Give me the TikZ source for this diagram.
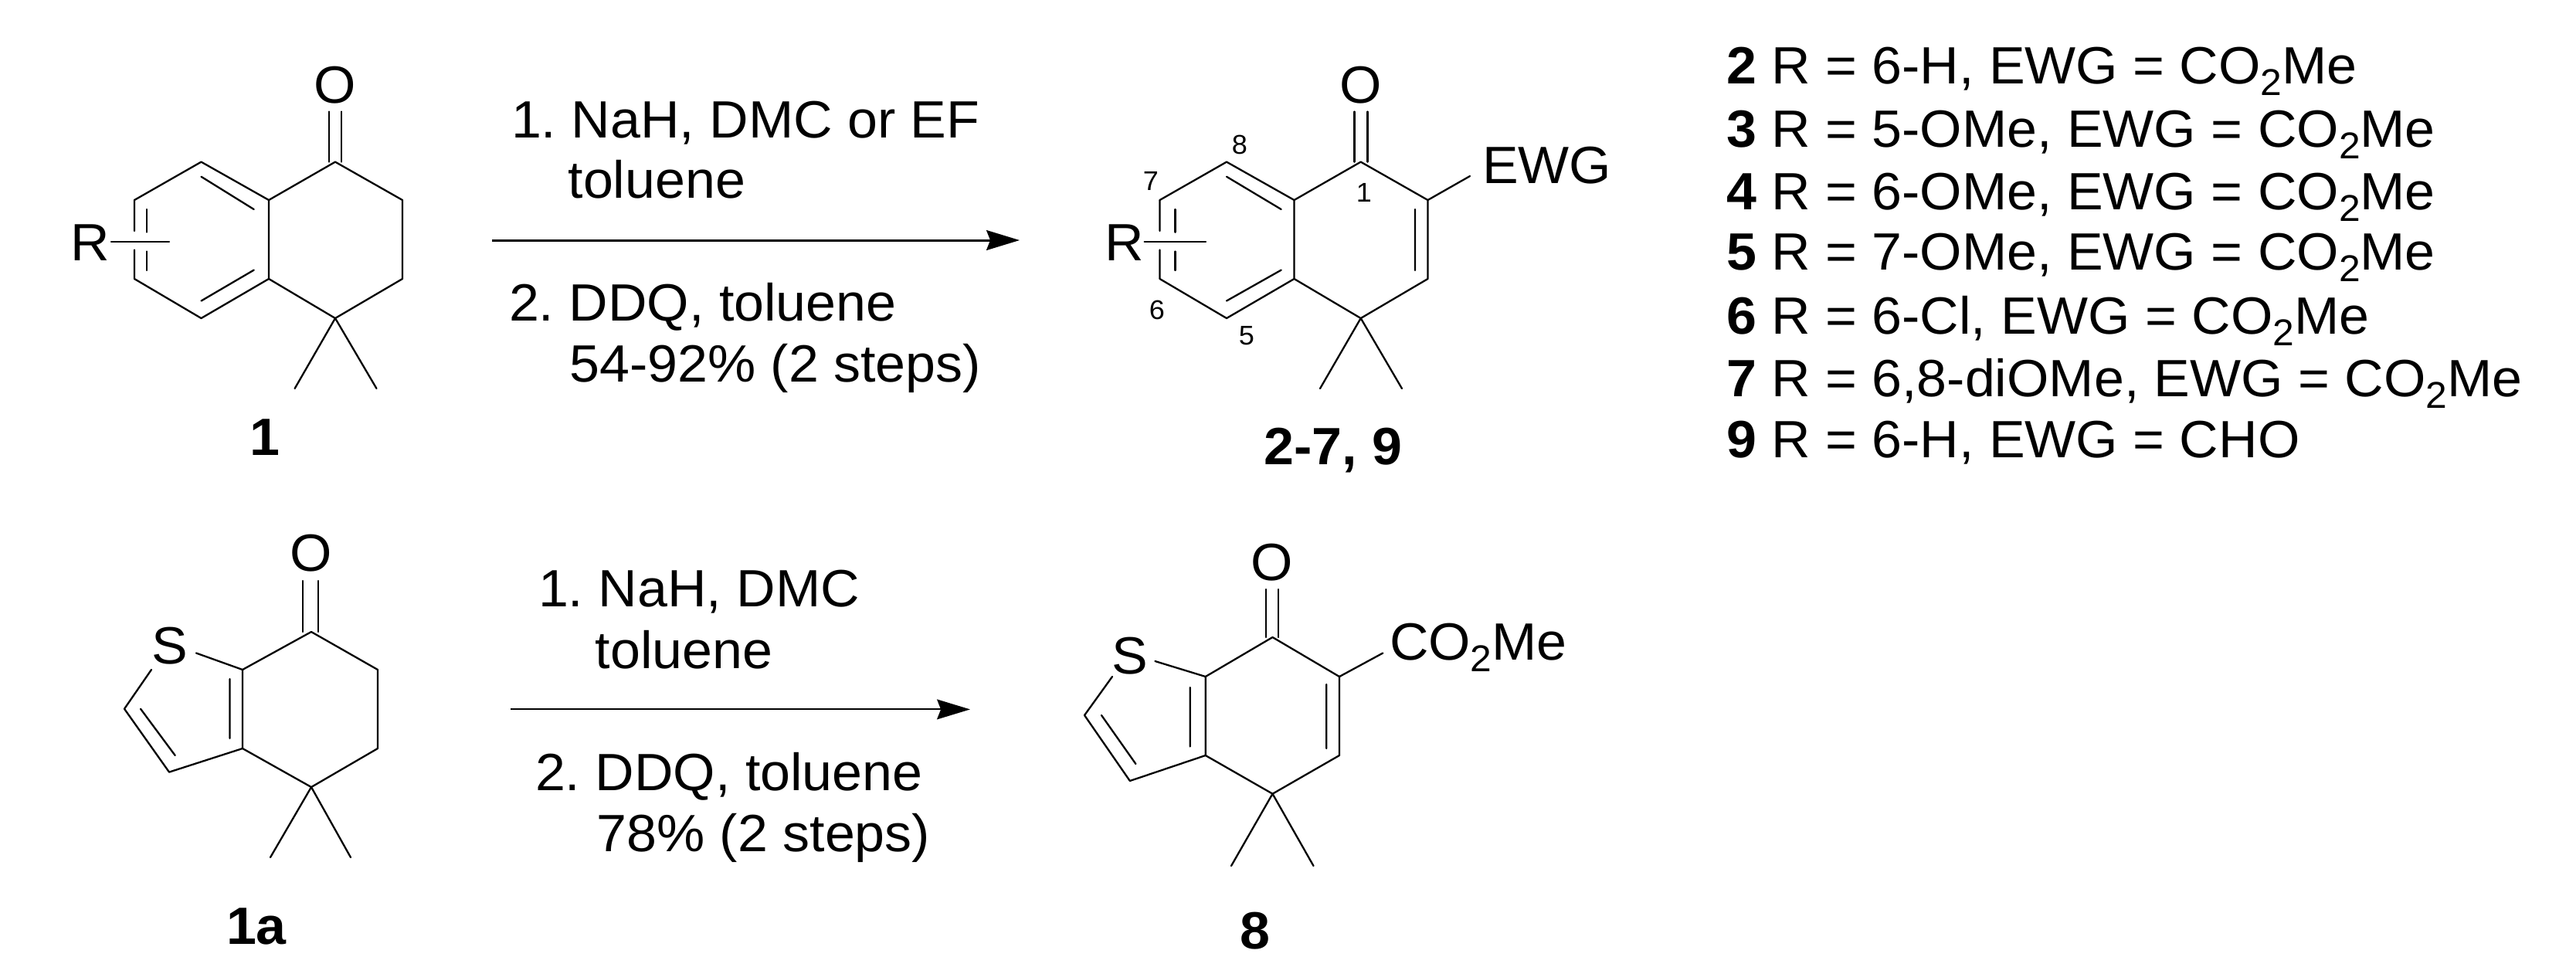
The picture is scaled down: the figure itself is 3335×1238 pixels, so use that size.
\documentclass[tikz,border=0pt]{standalone}
\usepackage{fontspec}
\setmainfont[FakeStretch=1.03]{Liberation Sans}
\usetikzlibrary{arrows.meta}
\newcommand{\mainsize}{\fontsize{16.3pt}{19pt}\selectfont\frenchspacing}
\newcommand{\smallsize}{\fontsize{8.4pt}{10pt}\selectfont}
\newcommand{\subsc}[1]{\raisebox{-3.6pt}{\fontsize{11.6pt}{13pt}\selectfont #1}}
\tikzset{
  x=0.24pt,y=-0.24pt,
  bond/.style={line width=0.55pt,line cap=round,line join=round},
  rxna/.style={line width=0.72pt,-{Stealth[length=10.3pt,width=6.2pt,inset=1.2pt]}},
  rxnb/.style={line width=0.5pt,-{Stealth[length=10.3pt,width=6.2pt,inset=1.2pt]}},
  txt/.style={inner sep=0pt,outer sep=0pt,anchor=base west,font=\mainsize},
  ctr/.style={inner sep=0pt,outer sep=0pt,font=\mainsize},
  lab/.style={inner sep=0pt,outer sep=0pt,anchor=base,font=\mainsize\bfseries},
  num/.style={inner sep=0pt,outer sep=0pt,font=\smallsize},
}
\begin{document}
\begin{tikzpicture}
\useasboundingbox (0,0) rectangle (3335,1238);
\fill[white] (0,0) rectangle (3335,1238);
% ---------- compound 1
\coordinate (a1) at (260.5,209.6);
\coordinate (a2) at (174,259);
\coordinate (a2g) at (174,299);
\coordinate (a3g) at (174,323.6);
\coordinate (a3) at (174,361);
\coordinate (a4) at (260.5,412);
\coordinate (a5) at (348,361);
\coordinate (a6) at (348,259);
\coordinate (a7) at (434,209.6);
\coordinate (a8) at (521,259);
\coordinate (a9) at (521,361);
\coordinate (a10) at (434,412);
\coordinate (am1) at (381.6,503);
\coordinate (am2) at (487.5,503);
\coordinate (ao1) at (426,144.5);
\coordinate (ao1b) at (426,209.6);
\coordinate (ao2) at (442,144.5);
\coordinate (ao2b) at (442,209.6);
\coordinate (ac1) at (144,313);
\coordinate (ac2) at (219,313);
\node[ctr] (aO) at (434,110) {O};
\node[ctr] (aR) at (117,314) {R};
\node[lab] (alab) at (343,589) {1};
\draw[bond] (a2)--(a1)--(a6)--(a7)--(a8)--(a9)--(a10)--(a5)--(a4)--(a3);
\draw[bond] (a2)--(a2g) (a3g)--(a3) (a5)--(a6) (a10)--(am1) (a10)--(am2);
\draw[bond] (ao1)--(ao1b) (ao2)--(ao2b) (ac1)--(ac2);
\draw[bond] (260.5,228.7)--(328.7,271) (260.5,389.5)--(328.7,349.6);
\draw[bond] (190,271)--(190,300.6) (190,325.5)--(190,350);
% ---------- arrow 1
\coordinate (r1s) at (637,311);
\coordinate (r1e) at (1320,311);
\draw[rxna] (r1s)--(r1e);
\node[txt] (t1) at (662,178) {1. NaH, DMC or EF};
\node[txt] (t2) at (735.6,256.7) {toluene};
\node[txt] (t3) at (659,415.5) {2. DDQ, toluene};
\node[txt] (t4) at (737.5,494) {54-92\% (2 steps)};
% ---------- compound 2-7, 9
\coordinate (b1) at (1588,209.6);
\coordinate (b2) at (1501.5,259);
\coordinate (b2g) at (1501.5,299);
\coordinate (b3g) at (1501.5,323.6);
\coordinate (b3) at (1501.5,361);
\coordinate (b4) at (1588,412);
\coordinate (b5) at (1675.5,361);
\coordinate (b6) at (1675.5,259);
\coordinate (b7) at (1761.7,209.6);
\coordinate (b8) at (1848.5,259);
\coordinate (b9) at (1848.5,361);
\coordinate (b10) at (1761.7,412);
\coordinate (bm1) at (1709,503);
\coordinate (bm2) at (1815,503);
\coordinate (be) at (1903,228);
\node[ctr] (bO) at (1761.7,110) {O};
\node[ctr] (bR) at (1456,314) {R};
\node[txt] (bE) at (1919,237.5) {EWG};
\node[num] (n8) at (1605,187) {8};
\node[num] (n7) at (1490,234.5) {7};
\node[num] (n1) at (1766,249) {1};
\node[num] (n6) at (1498,401) {6};
\node[num] (n5) at (1614,434.6) {5};
\node[lab] (blab) at (1726,601) {2-7, 9};
\draw[bond] (b2)--(b1)--(b6)--(b7)--(b8)--(b9)--(b10)--(b5)--(b4)--(b3);
\draw[bond] (b2)--(b2g) (b3g)--(b3) (b5)--(b6) (b10)--(bm1) (b10)--(bm2) (b8)--(be);
\draw[bond] (1753.6,144.5)--(1753.6,209.6) (1770.4,144.5)--(1770.4,209.6) (1481.6,313)--(1561,313);
\draw[bond] (1588,228.7)--(1658.7,271) (1588,389.5)--(1658.7,349.6) (1832,271)--(1832,350);
\draw[bond] (1521.4,271)--(1521.4,300.6) (1521.4,325.5)--(1521.4,350);
% ---------- list
\node[txt] (l2) at (2235,108.5) {\textbf{2} R = 6-H, EWG = CO\subsc{2}Me};
\node[txt] (l3) at (2235,190) {\textbf{3} R = 5-OMe, EWG = CO\subsc{2}Me};
\node[txt] (l4) at (2235,271) {\textbf{4} R = 6-OMe, EWG = CO\subsc{2}Me};
\node[txt] (l5) at (2235,349.6) {\textbf{5} R = 7-OMe, EWG = CO\subsc{2}Me};
\node[txt] (l6) at (2235,432) {\textbf{6} R = 6-Cl, EWG = CO\subsc{2}Me};
\node[txt] (l7) at (2235,513) {\textbf{7} R = 6,8-diOMe, EWG = CO\subsc{2}Me};
\node[txt] (l9) at (2235,592) {\textbf{9} R = 6-H, EWG = CHO};
% ---------- compound 1a
\coordinate (c1) at (403,818);
\coordinate (c2) at (489,867);
\coordinate (c3) at (489,969);
\coordinate (c4) at (403,1019);
\coordinate (c5) at (314,969);
\coordinate (c6) at (314,867);
\coordinate (c7) at (219,999.6);
\coordinate (c8) at (161,917.7);
\coordinate (cs1) at (196,867);
\coordinate (cs2) at (254,845.5);
\coordinate (cm1) at (350,1110);
\coordinate (cm2) at (454,1110);
\node[ctr] (cO) at (403,715.6) {O};
\node[ctr] (cS) at (220,836.6) {S};
\node[lab] (clab) at (332,1222.7) {1a};
\draw[bond] (cs2)--(c6)--(c1)--(c2)--(c3)--(c4)--(c5)--(c7)--(c8)--(cs1);
\draw[bond] (c5)--(c6) (c4)--(cm1) (c4)--(cm2);
\draw[bond] (392,752)--(392,818) (412,752)--(412,818);
\draw[bond] (297.5,879)--(297.5,956) (182,917.7)--(226.7,978);
% ---------- arrow 2
\coordinate (r2s) at (661,918.4);
\coordinate (r2e) at (1256,918.4);
\draw[rxnb] (r2s)--(r2e);
\node[txt] (u1) at (697,785.7) {1. NaH, DMC};
\node[txt] (u2) at (770.7,865) {toluene};
\node[txt] (u3) at (693,1023.4) {2. DDQ, toluene};
\node[txt] (u4) at (772.6,1102) {78\% (2 steps)};
% ---------- compound 8
\coordinate (d1) at (1647.5,825);
\coordinate (d2) at (1734,876);
\coordinate (d3) at (1734,978);
\coordinate (d4) at (1647.5,1027.7);
\coordinate (d5) at (1560.7,978);
\coordinate (d6) at (1560.7,876);
\coordinate (d7) at (1462.8,1011);
\coordinate (d8) at (1404,926);
\coordinate (ds1) at (1440,876);
\coordinate (ds2) at (1495.4,856);
\coordinate (dm1) at (1594,1121);
\coordinate (dm2) at (1700.5,1121);
\coordinate (de) at (1790.3,845.5);
\node[ctr] (dO) at (1646.4,728) {O};
\node[ctr] (dS) at (1463,849) {S};
\node[txt] (dE) at (1799,854) {CO\subsc{2}Me};
\node[lab] (dlab) at (1625,1228) {8};
\draw[bond] (ds2)--(d6)--(d1)--(d2)--(d3)--(d4)--(d5)--(d7)--(d8)--(ds1);
\draw[bond] (d5)--(d6) (d4)--(dm1) (d4)--(dm2) (d2)--(de);
\draw[bond] (1638.8,763)--(1638.8,825) (1655,763)--(1655,825);
\draw[bond] (1540.8,890)--(1540.8,966.5) (1426,926)--(1470.4,989) (1717.3,886)--(1717.3,969);
\end{tikzpicture}
\end{document}
